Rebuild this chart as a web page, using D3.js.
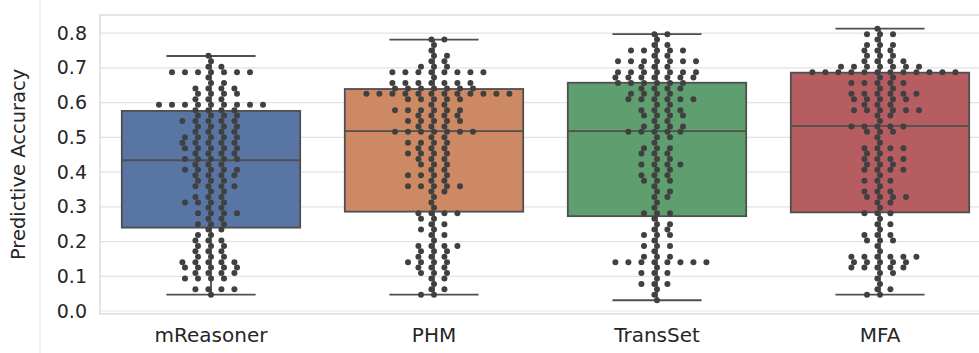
<!DOCTYPE html>
<html>
<head>
<meta charset="utf-8">
<script src="https://cdn.jsdelivr.net/npm/d3@7"></script>
<style>
  body { margin: 0; background: #fff; }
  text { font-family: "DejaVu Sans", Verdana, sans-serif; fill: #262626; }
</style>
</head>
<body>
<svg id="chart" width="979" height="353"></svg>
<script>
// scores are counts of correct answers out of 64 tasks
const N_TASKS = 64;

const models = ["mReasoner", "PHM", "TransSet", "MFA"];
const boxColors = ["#5875a4", "#cc8963", "#5f9e6e", "#b55d60"];
const yTicks = [0.0, 0.1, 0.2, 0.3, 0.4, 0.5, 0.6, 0.7, 0.8];

// box summaries
const whiskerLow = [0.047, 0.047, 0.031, 0.047];
const quartile1 = [0.240, 0.286, 0.273, 0.284];
const medians = [0.434, 0.518, 0.518, 0.533];
const quartile3 = [0.576, 0.639, 0.657, 0.686];
const whiskerHigh = [0.734, 0.781, 0.797, 0.8125];

const mReasonerScores = [3, 4, 4, 4, 4, 6, 6, 6, 6, 7, 7, 7, 7, 8, 8, 8, 8, 8, 9, 9, 9, 9, 9,
  10, 10, 10, 11, 11, 11, 12, 12, 12, 13, 13, 13, 14, 14, 15, 15, 16, 16, 16, 17, 17,
  18, 18, 18, 18, 19, 19, 20, 20, 20, 20, 21, 21, 21, 22, 22, 23, 23, 23, 23, 24, 24, 24,
  25, 25, 25, 25, 26, 26, 26, 26, 26, 27, 27, 27, 28, 28, 28, 28, 28, 29, 29, 29, 29,
  30, 30, 30, 30, 30, 31, 31, 31, 31, 31, 32, 32, 32, 32, 32, 33, 33, 33, 33, 34, 34, 34, 34,
  35, 35, 35, 35, 35, 36, 36, 36, 36, 37, 37, 37, 37, 38, 38, 38, 38, 38, 38, 38, 38, 38,
  39, 39, 39, 40, 40, 40, 40, 41, 41, 41, 41, 42, 42, 43, 44, 44, 44, 44, 44, 44, 44, 45, 45, 46, 47];

const phmScores = [3, 3, 4, 4, 5, 6, 6, 7, 7, 7, 8, 8, 8, 9, 9, 9, 9, 10, 10, 10, 11, 11, 11,
  12, 12, 12, 12, 13, 14, 14, 15, 15, 16, 16, 17, 17, 18, 18, 18, 18, 19, 20, 21, 22, 22,
  23, 23, 23, 23, 23, 24, 24, 25, 25, 25, 25, 26, 26, 27, 27, 27, 28, 28, 28, 29, 29, 29, 29,
  30, 30, 30, 31, 31, 31, 31, 32, 32, 33, 33, 33, 33, 33, 33, 33, 34, 34, 34, 35, 35, 35, 35, 35,
  36, 36, 36, 36, 37, 37, 37, 37, 37, 37, 38, 38, 39, 39, 39, 39, 39,
  40, 40, 40, 40, 40, 40, 40, 40, 40, 40, 40, 40, 41, 41, 41, 41, 41, 41, 41,
  42, 42, 42, 42, 42, 42, 42, 43, 44, 44, 44, 44, 44, 44, 44, 44, 45, 45, 45, 46, 46, 47, 47,
  48, 49, 50, 50];

const transSetScores = [2, 3, 4, 5, 5, 5, 6, 7, 7, 7, 8, 9, 9, 9, 9, 9, 9, 9, 9, 10, 10, 10, 11,
  12, 12, 12, 13, 14, 14, 14, 15, 15, 16, 16, 17, 18, 18, 18, 19, 20, 21, 21, 22, 22, 23,
  24, 24, 24, 25, 25, 25, 26, 26, 27, 27, 27, 27, 28, 28, 29, 29, 29, 30, 30, 30, 31, 32, 32,
  33, 33, 33, 33, 33, 34, 34, 34, 34, 35, 35, 36, 36, 36, 36, 37, 37, 37, 37, 38, 38,
  39, 39, 39, 39, 39, 39, 40, 40, 40, 40, 41, 41, 41, 41, 42, 42, 42, 42, 42, 42,
  43, 43, 43, 43, 43, 43, 43, 44, 44, 44, 44, 44, 44, 44, 45, 45, 45,
  46, 46, 46, 46, 46, 46, 46, 47, 47, 48, 48, 48, 48, 48, 49, 49, 50, 51, 51];

const mfaScores = [3, 3, 4, 4, 5, 6, 7, 7, 8, 8, 8, 8, 8, 9, 9, 9, 9, 9, 10, 10, 10, 10, 10, 10,
  11, 12, 13, 13, 13, 14, 14, 14, 15, 16, 16, 17, 18, 18, 18, 19, 20, 20, 21, 21, 21, 21,
  22, 22, 22, 23, 24, 24, 24, 25, 26, 26, 26, 26, 27, 27, 27, 28, 28, 28, 28, 29, 29,
  30, 30, 30, 30, 31, 32, 33, 33, 33, 34, 34, 34, 34, 34, 35, 36, 36, 37, 37, 37, 37, 37, 37,
  38, 38, 38, 39, 39, 39, 39, 39, 40, 40, 40, 40, 40, 40, 41, 41, 42, 42, 42, 42, 42, 43, 43,
  44, 44, 44, 44, 44, 44, 44, 44, 44, 44, 44, 44, 45, 45, 45, 45, 45, 45, 45,
  46, 46, 46, 46, 47, 47, 47, 48, 48, 48, 49, 49, 49, 50, 51, 51, 51, 52];

const scoreSets = [mReasonerScores, phmScores, transSetScores, mfaScores];

const width = 979, height = 353;
const svg = d3.select("#chart");

const x = d3.scaleBand().domain(models).range([99.5, 991.5]).paddingInner(0).paddingOuter(0);
const y = d3.scaleLinear().domain([-0.008, 0.852]).range([313.8, 15]);
const plotLeft = 100, plotRight = 991.5;

// stray frame line at the left of the figure
svg.append("line").attr("x1", 40).attr("x2", 40).attr("y1", 0).attr("y2", height)
  .attr("stroke", "#e2e2e2").attr("stroke-width", 1);

// grid
svg.append("g").selectAll("line").data(yTicks).join("line")
  .attr("x1", plotLeft).attr("x2", plotRight)
  .attr("y1", d => y(d)).attr("y2", d => y(d))
  .attr("stroke", "#e3e3e3").attr("stroke-width", 1.2);

// spines
svg.append("rect").attr("x", plotLeft).attr("y", y.range()[1])
  .attr("width", plotRight - plotLeft).attr("height", y.range()[0] - y.range()[1])
  .attr("fill", "none").attr("stroke", "#d9d9d9").attr("stroke-width", 1.4);

// y axis labels
const yAxis = d3.axisLeft(y).tickValues(yTicks).tickFormat(d3.format(".1f")).tickSize(0).tickPadding(13);
const yG = svg.append("g").attr("transform", `translate(${plotLeft},0)`).call(yAxis);
yG.select(".domain").remove();
yG.selectAll("text").style("font-size", "19px").attr("fill", "#262626");

// x axis labels
const xAxis = d3.axisBottom(x).tickSize(0).tickPadding(14);
const xG = svg.append("g").attr("transform", `translate(0,${y.range()[0]})`).call(xAxis);
xG.select(".domain").remove();
xG.selectAll("text").style("font-size", "20px").attr("fill", "#262626");

svg.append("text")
  .attr("transform", `translate(25,${(y.range()[0] + y.range()[1]) / 2}) rotate(-90)`)
  .attr("text-anchor", "middle")
  .style("font-size", "19.5px")
  .text("Predictive Accuracy");

// boxes
const boxW = x.bandwidth() * 0.8;
const lineColor = "#4f4f4f";
const boxes = svg.append("g").selectAll("g").data(models).join("g")
  .attr("transform", d => `translate(${x(d) + x.bandwidth() / 2},0)`);

boxes.append("line").attr("x1", 0).attr("x2", 0)
  .attr("y1", (d, i) => y(quartile3[i])).attr("y2", (d, i) => y(whiskerHigh[i]))
  .attr("stroke", lineColor).attr("stroke-width", 1.8);
boxes.append("line").attr("x1", 0).attr("x2", 0)
  .attr("y1", (d, i) => y(quartile1[i])).attr("y2", (d, i) => y(whiskerLow[i]))
  .attr("stroke", lineColor).attr("stroke-width", 1.8);
boxes.append("line").attr("x1", -boxW / 4).attr("x2", boxW / 4)
  .attr("y1", (d, i) => y(whiskerHigh[i])).attr("y2", (d, i) => y(whiskerHigh[i]))
  .attr("stroke", lineColor).attr("stroke-width", 1.8);
boxes.append("line").attr("x1", -boxW / 4).attr("x2", boxW / 4)
  .attr("y1", (d, i) => y(whiskerLow[i])).attr("y2", (d, i) => y(whiskerLow[i]))
  .attr("stroke", lineColor).attr("stroke-width", 1.8);
boxes.append("rect").attr("x", -boxW / 2).attr("width", boxW)
  .attr("y", (d, i) => y(quartile3[i]))
  .attr("height", (d, i) => y(quartile1[i]) - y(quartile3[i]))
  .attr("fill", (d, i) => boxColors[i])
  .attr("stroke", lineColor).attr("stroke-width", 1.8);
boxes.append("line").attr("x1", -boxW / 2).attr("x2", boxW / 2)
  .attr("y1", (d, i) => y(medians[i])).attr("y2", (d, i) => y(medians[i]))
  .attr("stroke", lineColor).attr("stroke-width", 1.8);

// swarm (seaborn-style beeswarm, horizontally stretched like the original)
const R = 2.77;
const STRETCH = 2.235;
function beeswarm(vals) {
  const pts = vals.map(v => ({ v, u: -y(v) })).sort((a, b) => a.u - b.u);
  const placed = [];
  pts.forEach((p, idx) => {
    if (idx === 0) { p.x = 0; placed.push(p); return; }
    const nb = [];
    for (let j = placed.length - 1; j >= 0; j--) {
      if (p.u - placed[j].u < 2 * R) nb.unshift(placed[j]); else break;
    }
    const cands = [0];
    let leftFirst = true;
    nb.forEach(q => {
      const dy = p.u - q.u;
      const dx = Math.sqrt(Math.max(4 * R * R - dy * dy, 0)) * 1.05;
      if (leftFirst) cands.push(q.x - dx, q.x + dx); else cands.push(q.x + dx, q.x - dx);
      leftFirst = !leftFirst;
    });
    cands.sort((a, b) => Math.abs(a) - Math.abs(b));
    const ok = cands.find(c => nb.every(q => (q.x - c) ** 2 + (q.u - p.u) ** 2 >= 4 * R * R - 1e-6));
    p.x = ok === undefined ? cands[0] : ok;
    placed.push(p);
  });
  return pts.map(p => ({ v: p.v, dx: p.x * STRETCH }));
}

models.forEach((m, i) => {
  const cx = x(m) + x.bandwidth() / 2;
  const pts = beeswarm(scoreSets[i].map(s => s / N_TASKS));
  svg.append("g").selectAll("circle").data(pts).join("circle")
    .attr("cx", d => cx + d.dx)
    .attr("cy", d => y(d.v))
    .attr("r", 3)
    .attr("fill", "#404040");
});
</script>
</body>
</html>
